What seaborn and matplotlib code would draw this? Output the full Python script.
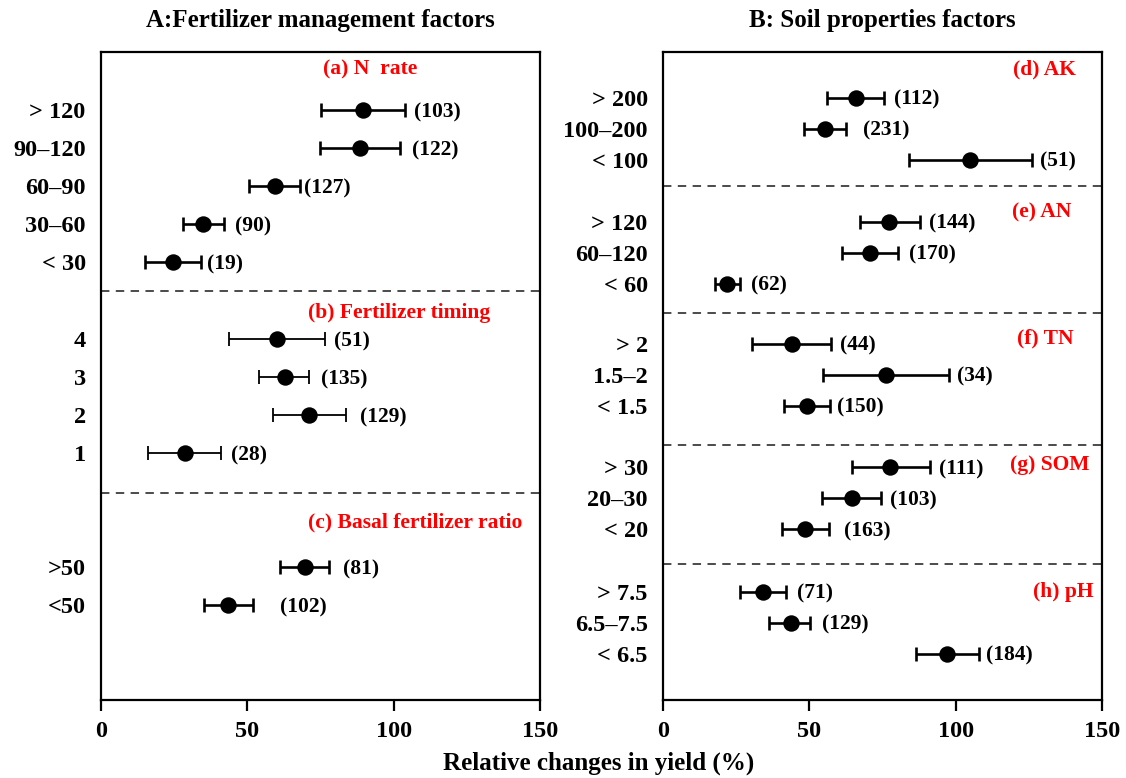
import numpy as np
import pandas as pd
import matplotlib
matplotlib.use("Agg")
import matplotlib.pyplot as plt
import seaborn as sns

# =========================================================================
# DATOS
# =========================================================================
a_labels = ["> 120", "90–120", "60–90", "30–60", "< 30"]
a_mean = [89.5, 88.6, 59.4, 34.9, 24.6]
a_lo = [75.3, 74.8, 50.5, 28.1, 15.0]
a_hi = [103.9, 102.3, 68.1, 42.1, 34.2]
a_n = [103, 122, 127, 90, 19]

b_labels = ["4", "3", "2", "1"]
b_mean = [60.1, 62.8, 71.0, 28.7]
b_lo = [43.8, 54.1, 58.9, 16.2]
b_hi = [76.7, 71.0, 83.7, 41.0]
b_n = [51, 135, 129, 28]

c_labels = [">50", "<50"]
c_mean = [69.6, 43.4]
c_lo = [61.1, 35.2]
c_hi = [78.0, 51.8]
c_n = [81, 102]

d_labels = ["> 200", "100–200", "< 100"]
d_mean = [65.9, 55.2, 104.9]
d_lo = [55.9, 48.1, 83.9]
d_hi = [75.4, 62.4, 126.0]
d_n = [112, 231, 51]

e_labels = ["> 120", "60–120", "< 60"]
e_mean = [77.2, 70.7, 21.9]
e_lo = [67.4, 61.1, 17.7]
e_hi = [87.8, 80.3, 26.3]
e_n = [144, 170, 62]

f_labels = ["> 2", "1.5–2", "< 1.5"]
f_mean = [44.0, 76.3, 49.2]
f_lo = [30.5, 54.8, 41.5]
f_hi = [57.5, 97.8, 56.9]
f_n = [44, 34, 150]

g_labels = ["> 30", "20–30", "< 20"]
g_mean = [77.7, 64.6, 48.6]
g_lo = [64.7, 54.4, 40.7]
g_hi = [91.1, 74.4, 56.8]
g_n = [111, 103, 163]

h_labels = ["> 7.5", "6.5–7.5", "< 6.5"]
h_mean = [34.1, 43.6, 97.1]
h_lo = [26.3, 36.3, 86.5]
h_hi = [42.0, 50.2, 108.0]
h_n = [71, 129, 184]

# =========================================================================
# DISEÑO (posiciones en unidades de fila, separaciones de etiquetas)
# =========================================================================
panel_A = {
    "total": 17.05,
    "groups": [
        dict(title="(a) N  rate", labels=a_labels, mean=a_mean, lo=a_lo, hi=a_hi, n=a_n,
             tx=92, tha="center", toff=0.47, lead=1.53, trail=0.75, lw=1.9,
             pad=[3.1, 3.8, 1.4, 3.8, 2.0]),
        dict(title="(b) Fertilizer timing", labels=b_labels, mean=b_mean, lo=b_lo, hi=b_hi, n=b_n,
             tx=102, tha="center", toff=0.59, lead=1.27, trail=1.05, lw=1.3,
             pad=[2.9, 4.3, 4.8, 3.4]),
        dict(title="(c) Basal fertilizer ratio", labels=c_labels, mean=c_mean, lo=c_lo, hi=c_hi, n=c_n,
             tx=107.5, tha="center", toff=0.77, lead=1.95, trail=None, lw=1.9,
             pad=[4.6, 9.2]),
    ],
}

panel_B = {
    "total": 20.9,
    "groups": [
        dict(title="(d) AK", labels=d_labels, mean=d_mean, lo=d_lo, hi=d_hi, n=d_n,
             tx=130.5, tha="center", toff=0.58, lead=1.48, trail=0.84, lw=1.9,
             pad=[3.6, 6.1, 2.7]),
        dict(title="(e) AN", labels=e_labels, mean=e_mean, lo=e_lo, hi=e_hi, n=e_n,
             tx=129.3, tha="center", toff=0.87, lead=1.16, trail=0.94, lw=1.9,
             pad=[3.1, 3.8, 3.8]),
        dict(title="(f) TN", labels=f_labels, mean=f_mean, lo=f_lo, hi=f_hi, n=f_n,
             tx=130.6, tha="center", toff=0.81, lead=1.0, trail=1.26, lw=1.9,
             pad=[3.0, 2.7, 2.7]),
        dict(title="(g) SOM", labels=g_labels, mean=g_mean, lo=g_lo, hi=g_hi, n=g_n,
             tx=132.0, tha="center", toff=0.64, lead=0.71, trail=1.13, lw=1.9,
             pad=[3.3, 3.3, 5.1]),
        dict(title="(h) pH", labels=h_labels, mean=h_mean, lo=h_lo, hi=h_hi, n=h_n,
             tx=136.6, tha="center", toff=0.9, lead=0.9, trail=None, lw=1.9,
             pad=[3.9, 4.2, 2.4]),
    ],
}

# =========================================================================
# ESTILO
# =========================================================================
sns.set_theme(style="white")
plt.rcParams['font.family'] = ['Liberation Serif', 'DejaVu Serif']
plt.rcParams['font.weight'] = 'bold'
plt.rcParams['text.color'] = 'black'
plt.rcParams['axes.labelcolor'] = 'black'
plt.rcParams['xtick.color'] = 'black'
plt.rcParams['ytick.color'] = 'black'

W, H = 1126, 778
fig = plt.figure(figsize=(W / 100, H / 100), dpi=100)

ax_top = 1 - 52 / H
ax_bot = 1 - 700 / H
axA = fig.add_axes([101 / W, ax_bot, 439 / W, ax_top - ax_bot])
axB = fig.add_axes([663 / W, ax_bot, 439 / W, ax_top - ax_bot])


def dibujar_panel(ax, panel):
    start = 0.0
    ys_all, lab_all = [], []
    for gr in panel["groups"]:
        k = len(gr["labels"])
        ys = start + gr["lead"] + np.arange(k)
        df = pd.DataFrame({"y": ys, "mean": gr["mean"], "lo": gr["lo"], "hi": gr["hi"]})

        ax.errorbar(df["mean"], df["y"],
                    xerr=[df["mean"] - df["lo"], df["hi"] - df["mean"]],
                    fmt="none", ecolor="black", elinewidth=gr["lw"],
                    capsize=5, capthick=gr["lw"], zorder=2)
        sns.scatterplot(data=df, x="mean", y="y", ax=ax, s=140, color="black",
                        edgecolor="black", linewidth=0, zorder=3, legend=False)

        for yy, hh, nn, pp in zip(ys, gr["hi"], gr["n"], gr["pad"]):
            ax.text(hh + pp, yy + 0.06, f"({nn})", ha="left", va="center",
                    fontsize=15.5, fontweight="bold", color="black")

        ax.text(gr["tx"], start + gr["toff"], gr["title"], ha=gr["tha"], va="center",
                fontsize=15.5, fontweight="bold", color="#ff0000")

        ys_all += list(ys)
        lab_all += gr["labels"]

        if gr["trail"] is not None:
            sep = ys[-1] + gr["trail"]
            ax.axhline(sep, color="#1a1a1a", lw=1.1, ls=(0, (5.5, 4.2)), zorder=1)
            start = sep

    ax.set_xlim(0, 150)
    ax.set_ylim(panel["total"], 0)
    ax.set_xticks([0, 50, 100, 150])
    ax.set_yticks(ys_all)
    ax.set_yticklabels(lab_all)
    ax.set_xlabel("")
    ax.set_ylabel("")
    ax.tick_params(axis="y", length=0, pad=11, labelsize=17.5, labelcolor="black")
    ax.tick_params(axis="x", direction="out", length=8, width=1.6, pad=7,
                   labelsize=17.5, bottom=True, color="black", labelcolor="black")
    for lab in ax.get_xticklabels() + ax.get_yticklabels():
        lab.set_fontweight("bold")
    for sp in ax.spines.values():
        sp.set_linewidth(1.6)
        sp.set_color("black")


dibujar_panel(axA, panel_A)
dibujar_panel(axB, panel_B)

fig.text(320 / W, 1 - 20 / H, "A:Fertilizer management factors", ha="center", va="center",
         fontsize=18, fontweight="bold", color="black")
fig.text(882 / W, 1 - 20 / H, "B: Soil properties factors", ha="center", va="center",
         fontsize=18, fontweight="bold", color="black")
fig.text(599 / W, 1 - 763 / H, "Relative changes in yield (%)", ha="center", va="center",
         fontsize=18, fontweight="bold", color="black")

fig.savefig("out.png", dpi=100, facecolor="white")
